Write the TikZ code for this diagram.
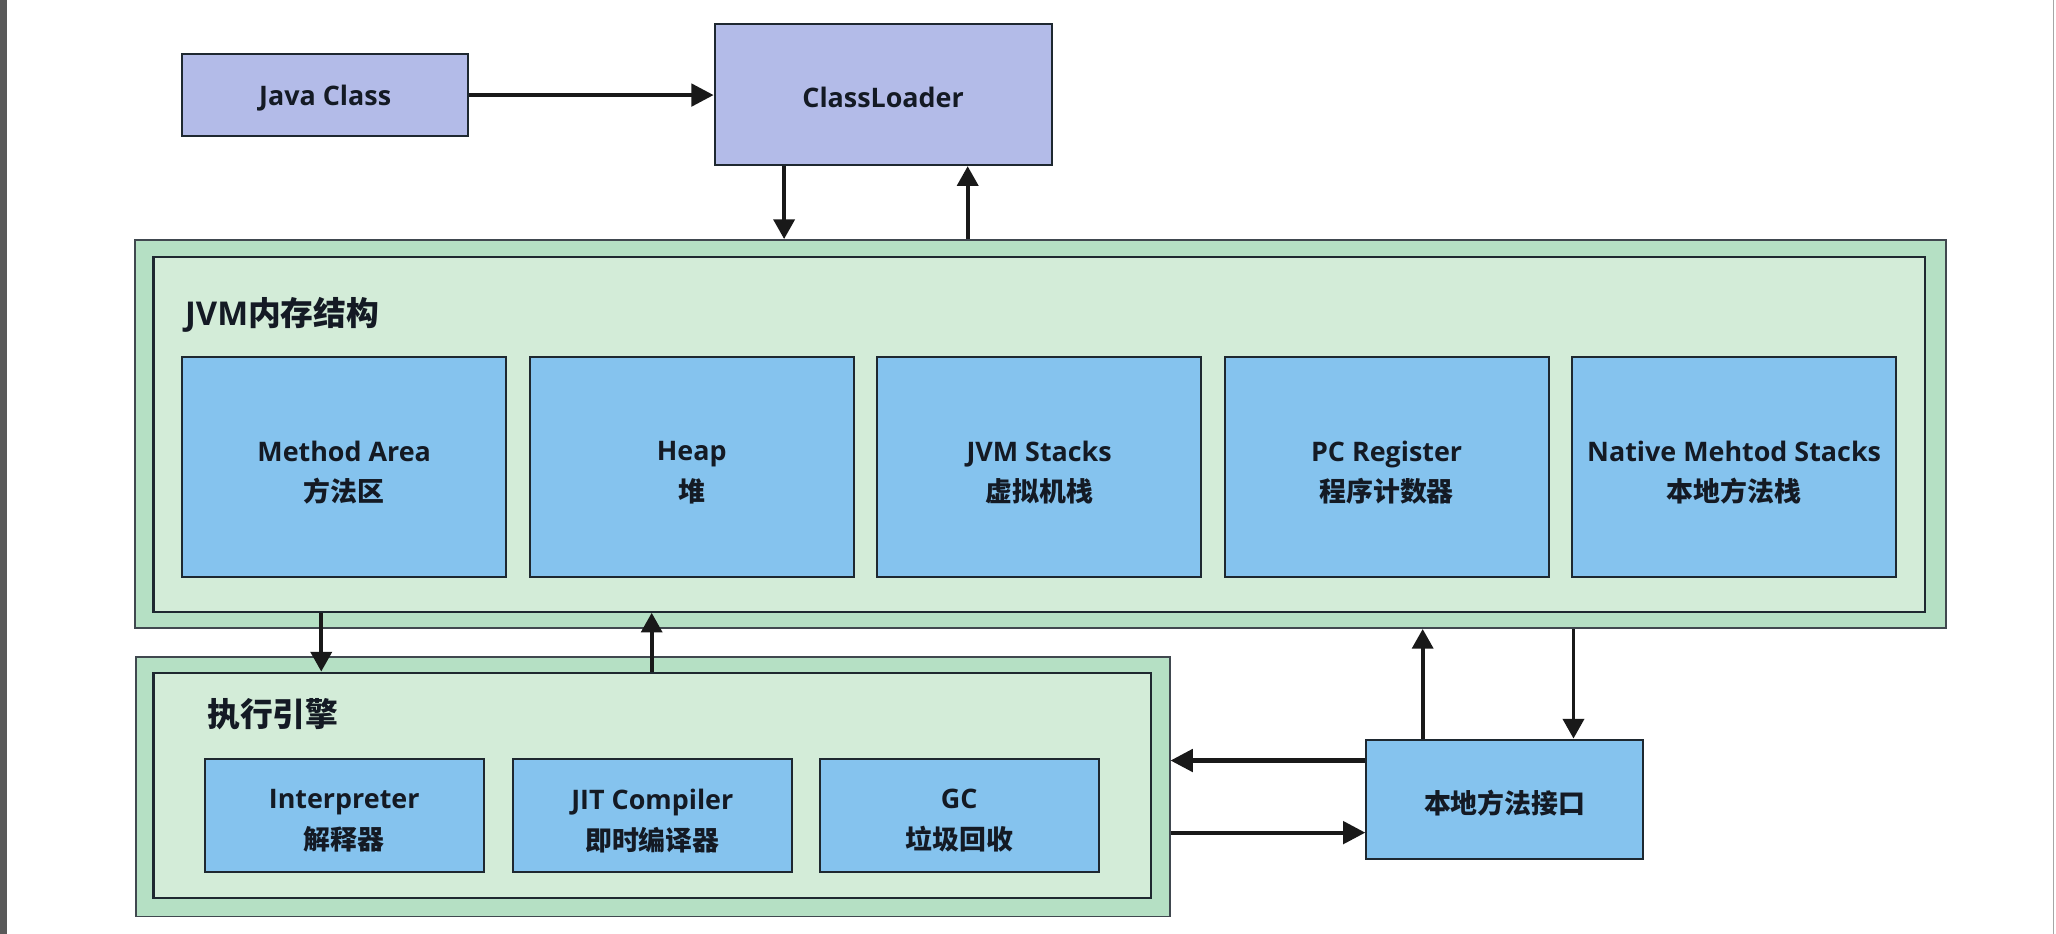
\documentclass[tikz,border=0pt]{standalone}
\usepackage{fontspec}
\setmainfont{Open Sans}
\newfontfamily\cjk{Noto Sans CJK SC}
\usetikzlibrary{arrows.meta}
\definecolor{lav}{HTML}{B3BBE8}
\definecolor{blu}{HTML}{85C3EE}
\definecolor{gout}{HTML}{B5E0C4}
\definecolor{gin}{HTML}{D3ECD8}
\definecolor{edge}{HTML}{1E2830}
\definecolor{ink}{HTML}{141A24}
\begin{document}
\begin{tikzpicture}[x=1pt,y=-1pt,
  txt/.style={text=ink, font=\fontsize{20.5}{31}\selectfont\bfseries, align=center, inner sep=0pt},
  lavbox/.style={draw=edge, line width=1.5pt, fill=lav, inner sep=0pt},
  blubox/.style={draw=edge, line width=1.5pt, fill=blu, inner sep=0pt},
  outerbox/.style={draw=edge!85, line width=1.4pt, fill=gout, inner sep=0pt},
  innerbox/.style={draw=edge, line width=1.7pt, fill=gin, inner sep=0pt},
  title/.style={text=ink, font=\fontsize{25}{30}\selectfont\bfseries, anchor=west, inner sep=0pt},
  harr/.style={draw=black!90, line width=3.2pt, -{Triangle[length=17pt,width=17pt]}},
  varr/.style={draw=black!90, line width=2.8pt, -{Triangle[length=15pt,width=16pt]}},
]
% canvas
\fill[white] (0,0) rectangle (1568,712);
\useasboundingbox (0,0) rectangle (1568,712);
\fill[black!65] (0,0) rectangle (5,712);
\draw[black!35, line width=1pt] (1566,0) -- (1566,712);

% top boxes
\node[lavbox, minimum width=218pt, minimum height=63pt] (jc) at (248,72.5) {};
\node[txt] (jct) at ([yshift=-2.5pt]jc.center) {Java Class};
\node[lavbox, minimum width=257pt, minimum height=108pt] (cl) at (673.5,72) {};
\node[txt] (clt) at ([yshift=-2.5pt]cl.center) {ClassLoader};

% JVM memory structure
\node[outerbox, minimum width=1381pt, minimum height=296pt] (jvmo) at (793.5,331) {};
\node[innerbox, minimum width=1351pt, minimum height=270.5pt] (jvmi) at (792.5,331.25) {};
\node[title] (jvmt) at (141,240) {JVM{\cjk 内存结构}};

\node[blubox, minimum width=247pt, minimum height=168pt] (ma) at (262.5,356) {};
\node[blubox, minimum width=247pt, minimum height=168pt] (hp) at (527.5,356) {};
\node[blubox, minimum width=247pt, minimum height=168pt] (js) at (792.5,356) {};
\node[blubox, minimum width=247pt, minimum height=168pt] (pc) at (1057.5,356) {};
\node[blubox, minimum width=247pt, minimum height=168pt] (ns) at (1322.5,356) {};
\node[txt] (mat) at ([yshift=-4.5pt]ma.center) {Method Area\\{\cjk 方法区}};
\node[txt] (hpt) at ([yshift=-4.5pt]hp.center) {Heap\\{\cjk 堆}};
\node[txt] (jst) at ([yshift=-4.5pt]js.center) {JVM Stacks\\{\cjk 虚拟机栈}};
\node[txt] (pct) at ([yshift=-4.5pt]pc.center) {PC Register\\{\cjk 程序计数器}};
\node[txt] (nst) at ([yshift=-4.5pt]ns.center) {Native Mehtod Stacks\\{\cjk 本地方法栈}};

% execution engine
\node[outerbox, minimum width=788pt, minimum height=198pt] (eo) at (498,600) {};
\node[innerbox, minimum width=761pt, minimum height=172pt] (ei) at (497.5,599) {};
\node[title] (eet) at (158,545) {\cjk 执行引擎};

\node[blubox, minimum width=213pt, minimum height=86pt] (ip) at (262.5,622) {};
\node[blubox, minimum width=213pt, minimum height=86pt] (jit) at (497.5,622) {};
\node[blubox, minimum width=213pt, minimum height=86pt] (gc) at (731.5,622) {};
\node[txt] (ipt) at ([yshift=-4pt]ip.center) {Interpreter\\{\cjk 解释器}};
\node[txt] (jitt) at ([yshift=-4pt]jit.center) {JIT Compiler\\{\cjk 即时编译器}};
\node[txt] (gct) at ([yshift=-4pt]gc.center) {GC\\{\cjk 垃圾回收}};

% native interface
\node[blubox, minimum width=211pt, minimum height=91pt] (nm) at (1147.5,609.5) {};
\node[txt] (nmt) at ([yshift=-3pt]nm.center) {\cjk 本地方法接口};

% connectors
\draw[harr] (jc.east) -- (jc.east -| cl.west);
\draw[varr] ([xshift=-75.5pt]cl.south) -- ([xshift=-75.5pt]cl.south |- jvmo.north);
\draw[varr] ([xshift=64.5pt]cl.south |- jvmo.north) -- ([xshift=64.5pt]cl.south);

\coordinate (m1) at (245,0);
\coordinate (m2) at (497,0);
\draw[varr] (m1 |- jvmi.south) -- (m1 |- ei.north);
\draw[varr] (m2 |- ei.north) -- (m2 |- jvmi.south);

\coordinate (r1) at (1085,0);
\coordinate (r2) at (1200,0);
\draw[varr] (r1 |- nm.north) -- (r1 |- jvmo.south);
\draw[varr] (r2 |- jvmo.south) -- (r2 |- nm.north);

\coordinate (h1) at (0,580);
\coordinate (h2) at (0,635);
\draw[harr] (h1 -| nm.west) -- (h1 -| eo.east);
\draw[harr] (h2 -| eo.east) -- (h2 -| nm.west);
\end{tikzpicture}
\end{document}
